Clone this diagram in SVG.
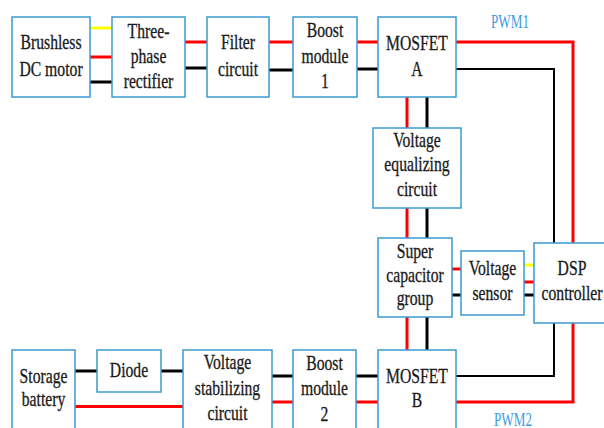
<svg xmlns="http://www.w3.org/2000/svg" width="604" height="428" viewBox="0 0 604 428">
<style>
.box{fill:#fff;stroke:#3d9ad1;stroke-width:1.5}
.t{font-family:"Liberation Serif","Times New Roman",serif;font-size:20px;fill:#1a1a1a;stroke:#1a1a1a;stroke-width:0.3;text-anchor:middle}
.pwm{font-family:"Liberation Serif","Times New Roman",serif;font-size:18px;fill:#3a9bdc;text-anchor:middle}
.r{stroke:#ff0000;stroke-width:3;fill:none}
.k{stroke:#000;stroke-width:3;fill:none}
.k2{stroke:#000;stroke-width:2;fill:none}
.y{stroke:#ffff00;stroke-width:3;fill:none}
</style>
<rect width="604" height="428" fill="#fff"/>
<g id="connectors">
<line class="y" x1="90" y1="28" x2="112" y2="28"/>
<line class="r" x1="90" y1="57" x2="112" y2="57"/>
<line class="k" x1="90" y1="82" x2="112" y2="82"/>
<line class="r" x1="185" y1="42" x2="207" y2="42"/>
<line class="k" x1="185" y1="68" x2="207" y2="68"/>
<line class="r" x1="269" y1="42" x2="293" y2="42"/>
<line class="k" x1="269" y1="70" x2="293" y2="70"/>
<line class="r" x1="357" y1="42" x2="378" y2="42"/>
<line class="k" x1="357" y1="69" x2="378" y2="69"/>
<path class="r" d="M456,42 H573 V243"/>
<path class="k2" d="M456,69 H554 V243"/>
<line class="r" x1="407" y1="97" x2="407" y2="128"/>
<line class="k" x1="427" y1="97" x2="427" y2="128"/>
<line class="r" x1="407" y1="208" x2="407" y2="238"/>
<line class="k" x1="427" y1="208" x2="427" y2="238"/>
<line class="r" x1="407" y1="317" x2="407" y2="350"/>
<line class="k" x1="427" y1="317" x2="427" y2="350"/>
<line class="r" x1="452" y1="269" x2="461" y2="269"/>
<line class="k" x1="452" y1="295" x2="461" y2="295"/>
<line class="y" x1="524" y1="265" x2="534" y2="265"/>
<line class="r" x1="524" y1="282" x2="534" y2="282"/>
<line class="k" x1="524" y1="295" x2="534" y2="295"/>
<line class="k" x1="75" y1="371" x2="97" y2="371"/>
<line class="k" x1="161" y1="371" x2="183" y2="371"/>
<line class="r" x1="75" y1="406.5" x2="183" y2="406.5"/>
<line class="k" x1="272" y1="376" x2="293" y2="376"/>
<line class="r" x1="272" y1="402" x2="293" y2="402"/>
<line class="k" x1="356" y1="376" x2="378" y2="376"/>
<line class="r" x1="356" y1="402" x2="378" y2="402"/>
<path class="k2" d="M456,376 H554 V323"/>
<path class="r" d="M456,402 H573 V323"/>
</g>
<g id="motor"><rect class="box" x="12" y="17" width="78" height="80"/>
<text class="t" transform="translate(51,0) scale(0.785,1)"><tspan x="0" y="49.5">Brushless</tspan><tspan x="0" y="76.5">DC motor</tspan></text></g>
<g id="rectifier"><rect class="box" x="112" y="17" width="73" height="80"/>
<text class="t" transform="translate(148.5,0) scale(0.785,1)"><tspan x="0" y="37.7">Three-</tspan><tspan x="0" y="62.7">phase</tspan><tspan x="0" y="88">rectifier</tspan></text></g>
<g id="filter"><rect class="box" x="207" y="17" width="62" height="80"/>
<text class="t" transform="translate(238,0) scale(0.785,1)"><tspan x="0" y="49.5">Filter</tspan><tspan x="0" y="76.5">circuit</tspan></text></g>
<g id="boost1"><rect class="box" x="293" y="17" width="64" height="80"/>
<text class="t" transform="translate(325,0) scale(0.785,1)"><tspan x="0" y="37.5">Boost</tspan><tspan x="0" y="62.7">module</tspan><tspan x="0" y="88">1</tspan></text></g>
<g id="mosfetA"><rect class="box" x="378" y="17" width="78" height="80"/>
<text class="t" transform="translate(417,0) scale(0.785,1)"><tspan x="0" y="50">MOSFET</tspan><tspan x="0" y="76">A</tspan></text></g>
<g id="equalizing"><rect class="box" x="373" y="128" width="88" height="80"/>
<text class="t" transform="translate(417,0) scale(0.785,1)"><tspan x="0" y="146.7">Voltage</tspan><tspan x="0" y="171.5">equalizing</tspan><tspan x="0" y="196">circuit</tspan></text></g>
<g id="supercap"><rect class="box" x="378" y="238" width="74" height="79"/>
<text class="t" transform="translate(415,0) scale(0.785,1)"><tspan x="0" y="258">Super</tspan><tspan x="0" y="282">capacitor</tspan><tspan x="0" y="305">group</tspan></text></g>
<g id="sensor"><rect class="box" x="461" y="251" width="63" height="64"/>
<text class="t" transform="translate(492.5,0) scale(0.785,1)"><tspan x="0" y="275">Voltage</tspan><tspan x="0" y="300">sensor</tspan></text></g>
<g id="dsp"><rect class="box" x="534" y="243" width="80" height="80"/>
<text class="t" transform="translate(572,0) scale(0.785,1)"><tspan x="0" y="275">DSP</tspan><tspan x="0" y="300">controller</tspan></text></g>
<g id="battery"><rect class="box" x="12" y="350" width="63" height="90"/>
<text class="t" transform="translate(43.5,0) scale(0.785,1)"><tspan x="0" y="382.7">Storage</tspan><tspan x="0" y="405.7">battery</tspan></text></g>
<g id="diode"><rect class="box" x="97" y="350" width="64" height="42"/>
<text class="t" transform="translate(129,0) scale(0.785,1)"><tspan x="0" y="376.7">Diode</tspan></text></g>
<g id="stabilizing"><rect class="box" x="183" y="350" width="89" height="90"/>
<text class="t" transform="translate(227.5,0) scale(0.785,1)"><tspan x="0" y="369.5">Voltage</tspan><tspan x="0" y="395">stabilizing</tspan><tspan x="0" y="420">circuit</tspan></text></g>
<g id="boost2"><rect class="box" x="293" y="350" width="63" height="90"/>
<text class="t" transform="translate(324.5,0) scale(0.785,1)"><tspan x="0" y="370">Boost</tspan><tspan x="0" y="395">module</tspan><tspan x="0" y="421">2</tspan></text></g>
<g id="mosfetB"><rect class="box" x="378" y="350" width="78" height="90"/>
<text class="t" transform="translate(417,0) scale(0.785,1)"><tspan x="0" y="382.7">MOSFET</tspan><tspan x="0" y="406.7">B</tspan></text></g>
<g id="labels">
<text class="pwm" transform="translate(510,0) scale(0.73,1)" x="0" y="28">PWM1</text>
<text class="pwm" transform="translate(513,0) scale(0.73,1)" x="0" y="426">PWM2</text>
</g>
</svg>
